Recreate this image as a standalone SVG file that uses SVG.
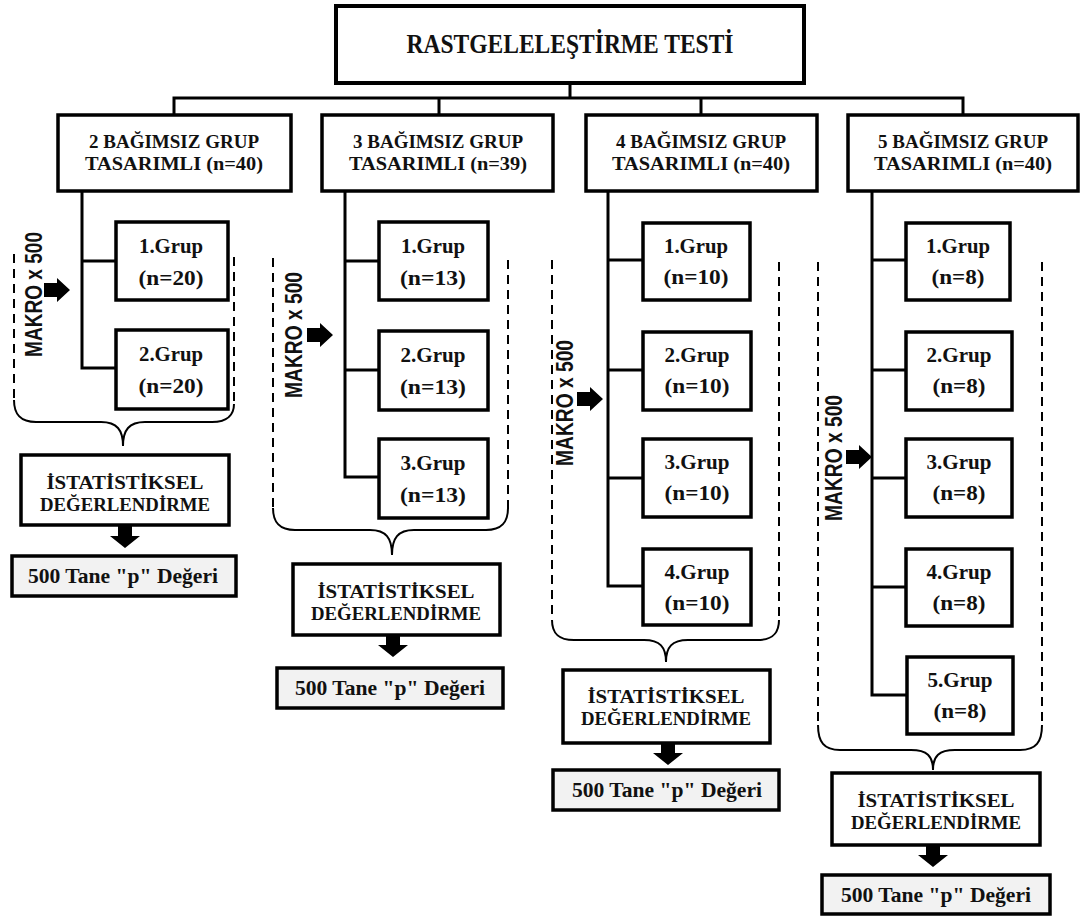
<svg xmlns="http://www.w3.org/2000/svg" xmlns:xlink="http://www.w3.org/1999/xlink" width="1081" height="917" viewBox="0 0 1081 917">
<style>
.box{fill:#fff;stroke:#000;stroke-width:3.5}
.pbox{fill:#f2f2f2;stroke:#000;stroke-width:3.5}
.conn{fill:none;stroke:#000;stroke-width:3;stroke-linecap:square}
.dash{fill:none;stroke:#000;stroke-width:2;stroke-dasharray:9,6}
.brace{fill:none;stroke:#000;stroke-width:2}
.t{font-family:"Liberation Serif","Times New Roman",serif;font-weight:bold;fill:#111;text-anchor:middle}
.mk{font-family:"Liberation Sans Narrow","Liberation Sans",Arial,sans-serif;font-weight:bold;fill:#111;text-anchor:middle;font-size:23px}
</style>
<defs>
<polygon id="rarrow" points="0,-7 13,-7 13,-12 26,0 13,12 13,7 0,7" fill="#000"/>
<polygon id="darrow" points="-7,0 7,0 7,10 15,10 0,22 -15,10 -7,10" fill="#000"/>
</defs>

<g id="connectors">
<path class="conn" d="M570,83 V98 M174,98 H963 M174,98 V115 M439,98 V115 M701,98 V115 M963,98 V115"/>
<path class="conn" d="M82,191 V368 H116 M82,261 H116"/>
<path class="conn" d="M345,191 V477 H379 M345,261 H379 M345,370 H379"/>
<path class="conn" d="M608,191 V586 H643 M608,260 H643 M608,370 H643 M608,478 H643"/>
<path class="conn" d="M872,191 V695 H906 M872,260 H906 M872,370 H906 M872,478 H906 M872,587 H906"/>
<use xlink:href="#rarrow" x="44" y="290"/>
<use xlink:href="#rarrow" x="307" y="335"/>
<use xlink:href="#rarrow" x="577" y="399"/>
<use xlink:href="#rarrow" x="846" y="457"/>
<use xlink:href="#darrow" x="125" y="526"/>
<use xlink:href="#darrow" x="393" y="635"/>
<use xlink:href="#darrow" x="668" y="743"/>
<use xlink:href="#darrow" x="933" y="845"/>
</g>

<g id="title">
<rect class="box" x="336" y="6" width="468" height="77" style="stroke-width:4"/>
<text class="t" x="570" y="53" font-size="28" textLength="327" lengthAdjust="spacingAndGlyphs">RASTGELELEŞTİRME TESTİ</text>
</g>

<g id="design2">
<rect class="box" x="58" y="115" width="233" height="76"/>
<text class="t" x="174" y="148" font-size="19.5" textLength="170" lengthAdjust="spacingAndGlyphs">2 BAĞIMSIZ GRUP</text>
<text class="t" x="174" y="170" font-size="19.5" textLength="178" lengthAdjust="spacingAndGlyphs">TASARIMLI (n=40)</text>
</g>
<g id="design3">
<rect class="box" x="322" y="115" width="231" height="76"/>
<text class="t" x="438" y="148" font-size="19.5" textLength="170" lengthAdjust="spacingAndGlyphs">3 BAĞIMSIZ GRUP</text>
<text class="t" x="438" y="170" font-size="19.5" textLength="178" lengthAdjust="spacingAndGlyphs">TASARIMLI (n=39)</text>
</g>
<g id="design4">
<rect class="box" x="586" y="115" width="231" height="76"/>
<text class="t" x="701" y="148" font-size="19.5" textLength="170" lengthAdjust="spacingAndGlyphs">4 BAĞIMSIZ GRUP</text>
<text class="t" x="701" y="170" font-size="19.5" textLength="178" lengthAdjust="spacingAndGlyphs">TASARIMLI (n=40)</text>
</g>
<g id="design5">
<rect class="box" x="848" y="115" width="230" height="76"/>
<text class="t" x="963" y="148" font-size="19.5" textLength="170" lengthAdjust="spacingAndGlyphs">5 BAĞIMSIZ GRUP</text>
<text class="t" x="963" y="170" font-size="19.5" textLength="178" lengthAdjust="spacingAndGlyphs">TASARIMLI (n=40)</text>
</g>

<!-- Column 1 -->
<g id="c1-g1"><rect class="box" x="116" y="222" width="112" height="78"/>
<text class="t" x="171" y="253" font-size="21" textLength="64" lengthAdjust="spacingAndGlyphs">1.Grup</text>
<text class="t" x="171" y="285" font-size="21" textLength="65" lengthAdjust="spacingAndGlyphs">(n=20)</text></g>
<g id="c1-g2"><rect class="box" x="116" y="330" width="112" height="79"/>
<text class="t" x="171" y="361" font-size="21" textLength="64" lengthAdjust="spacingAndGlyphs">2.Grup</text>
<text class="t" x="171" y="393" font-size="21" textLength="65" lengthAdjust="spacingAndGlyphs">(n=20)</text></g>
<g id="c1-loop">
<path class="dash" d="M14,254 V400 M234,257 V404"/>
<path class="brace" d="M14,400 C14,414 20,422 36,422 L101,422 C117,422 123,430 123,446 C123,430 129,422 145,422 L212,422 C228,422 234,414 234,404"/>
<text class="mk" transform="translate(42,294.5) rotate(-90)" textLength="125" lengthAdjust="spacingAndGlyphs">MAKRO x 500</text>
</g>
<g id="c1-stat"><rect class="box" x="21" y="455" width="208" height="70"/>
<text class="t" x="125" y="489" font-size="19" textLength="157" lengthAdjust="spacingAndGlyphs">İSTATİSTİKSEL</text>
<text class="t" x="125" y="511" font-size="19" textLength="170" lengthAdjust="spacingAndGlyphs">DEĞERLENDİRME</text></g>
<g id="c1-p"><rect class="pbox" x="12" y="556" width="224" height="40"/>
<text class="t" x="123" y="583" font-size="20" textLength="190" lengthAdjust="spacingAndGlyphs">500 Tane "p" Değeri</text></g>

<!-- Column 2 -->
<g id="c2-g1"><rect class="box" x="379" y="222" width="109" height="78"/>
<text class="t" x="433" y="253" font-size="21" textLength="64" lengthAdjust="spacingAndGlyphs">1.Grup</text>
<text class="t" x="433" y="285" font-size="21" textLength="66" lengthAdjust="spacingAndGlyphs">(n=13)</text></g>
<g id="c2-g2"><rect class="box" x="379" y="331" width="109" height="79"/>
<text class="t" x="433" y="362" font-size="21" textLength="65" lengthAdjust="spacingAndGlyphs">2.Grup</text>
<text class="t" x="433" y="394" font-size="21" textLength="66" lengthAdjust="spacingAndGlyphs">(n=13)</text></g>
<g id="c2-g3"><rect class="box" x="379" y="439" width="109" height="79"/>
<text class="t" x="433" y="470" font-size="21" textLength="65" lengthAdjust="spacingAndGlyphs">3.Grup</text>
<text class="t" x="433" y="502" font-size="21" textLength="66" lengthAdjust="spacingAndGlyphs">(n=13)</text></g>
<g id="c2-loop">
<path class="dash" d="M273,258 V508 M508,260 V508"/>
<path class="brace" d="M273,508 C273,522 279,530 295,530 L370,530 C386,530 392,538 392,555 C392,538 398,530 414,530 L486,530 C502,530 508,522 508,508"/>
<text class="mk" transform="translate(302,335) rotate(-90)" textLength="126" lengthAdjust="spacingAndGlyphs">MAKRO x 500</text>
</g>
<g id="c2-stat"><rect class="box" x="293" y="564" width="207" height="71"/>
<text class="t" x="396" y="598" font-size="19" textLength="157" lengthAdjust="spacingAndGlyphs">İSTATİSTİKSEL</text>
<text class="t" x="396" y="620" font-size="19" textLength="170" lengthAdjust="spacingAndGlyphs">DEĞERLENDİRME</text></g>
<g id="c2-p"><rect class="pbox" x="277" y="668" width="226" height="40"/>
<text class="t" x="390" y="695" font-size="20" textLength="190" lengthAdjust="spacingAndGlyphs">500 Tane "p" Değeri</text></g>

<!-- Column 3 -->
<g id="c3-g1"><rect class="box" x="643" y="223" width="107" height="77"/>
<text class="t" x="696" y="253" font-size="21" textLength="64" lengthAdjust="spacingAndGlyphs">1.Grup</text>
<text class="t" x="696" y="284" font-size="21" textLength="65" lengthAdjust="spacingAndGlyphs">(n=10)</text></g>
<g id="c3-g2"><rect class="box" x="643" y="332" width="108" height="78"/>
<text class="t" x="697" y="362" font-size="21" textLength="65" lengthAdjust="spacingAndGlyphs">2.Grup</text>
<text class="t" x="697" y="393" font-size="21" textLength="65" lengthAdjust="spacingAndGlyphs">(n=10)</text></g>
<g id="c3-g3"><rect class="box" x="643" y="439" width="108" height="78"/>
<text class="t" x="697" y="469" font-size="21" textLength="65" lengthAdjust="spacingAndGlyphs">3.Grup</text>
<text class="t" x="697" y="500" font-size="21" textLength="65" lengthAdjust="spacingAndGlyphs">(n=10)</text></g>
<g id="c3-g4"><rect class="box" x="643" y="549" width="108" height="76"/>
<text class="t" x="697" y="579" font-size="21" textLength="65" lengthAdjust="spacingAndGlyphs">4.Grup</text>
<text class="t" x="697" y="610" font-size="21" textLength="65" lengthAdjust="spacingAndGlyphs">(n=10)</text></g>
<g id="c3-loop">
<path class="dash" d="M552,260 V620 M779,262 V620"/>
<path class="brace" d="M552,620 C552,633 558,640 574,640 L644,640 C660,640 666,647 666,662 C666,647 672,640 688,640 L757,640 C773,640 779,633 779,620"/>
<text class="mk" transform="translate(573,403) rotate(-90)" textLength="126" lengthAdjust="spacingAndGlyphs">MAKRO x 500</text>
</g>
<g id="c3-stat"><rect class="box" x="563" y="670" width="207" height="73"/>
<text class="t" x="666" y="703" font-size="19" textLength="157" lengthAdjust="spacingAndGlyphs">İSTATİSTİKSEL</text>
<text class="t" x="666" y="725" font-size="19" textLength="170" lengthAdjust="spacingAndGlyphs">DEĞERLENDİRME</text></g>
<g id="c3-p"><rect class="pbox" x="553" y="770" width="226" height="40"/>
<text class="t" x="667" y="797" font-size="20" textLength="190" lengthAdjust="spacingAndGlyphs">500 Tane "p" Değeri</text></g>

<!-- Column 4 -->
<g id="c4-g1"><rect class="box" x="906" y="223" width="104" height="77"/>
<text class="t" x="958" y="253" font-size="21" textLength="64" lengthAdjust="spacingAndGlyphs">1.Grup</text>
<text class="t" x="958" y="284" font-size="21" textLength="53" lengthAdjust="spacingAndGlyphs">(n=8)</text></g>
<g id="c4-g2"><rect class="box" x="906" y="332" width="106" height="78"/>
<text class="t" x="959" y="362" font-size="21" textLength="65" lengthAdjust="spacingAndGlyphs">2.Grup</text>
<text class="t" x="959" y="393" font-size="21" textLength="53" lengthAdjust="spacingAndGlyphs">(n=8)</text></g>
<g id="c4-g3"><rect class="box" x="906" y="439" width="106" height="78"/>
<text class="t" x="959" y="469" font-size="21" textLength="65" lengthAdjust="spacingAndGlyphs">3.Grup</text>
<text class="t" x="959" y="500" font-size="21" textLength="53" lengthAdjust="spacingAndGlyphs">(n=8)</text></g>
<g id="c4-g4"><rect class="box" x="906" y="549" width="106" height="77"/>
<text class="t" x="959" y="579" font-size="21" textLength="65" lengthAdjust="spacingAndGlyphs">4.Grup</text>
<text class="t" x="959" y="610" font-size="21" textLength="53" lengthAdjust="spacingAndGlyphs">(n=8)</text></g>
<g id="c4-g5"><rect class="box" x="907" y="657" width="106" height="77"/>
<text class="t" x="960" y="687" font-size="21" textLength="65" lengthAdjust="spacingAndGlyphs">5.Grup</text>
<text class="t" x="960" y="718" font-size="21" textLength="53" lengthAdjust="spacingAndGlyphs">(n=8)</text></g>
<g id="c4-loop">
<path class="dash" d="M818,262 V725 M1042,262 V725"/>
<path class="brace" d="M818,725 C818,742 824,750 840,750 L911,750 C927,750 933,756 933,770 C933,756 939,750 955,750 L1020,750 C1036,750 1042,742 1042,725"/>
<text class="mk" transform="translate(842,458) rotate(-90)" textLength="126" lengthAdjust="spacingAndGlyphs">MAKRO x 500</text>
</g>
<g id="c4-stat"><rect class="box" x="832" y="773" width="208" height="72"/>
<text class="t" x="936" y="807" font-size="19" textLength="157" lengthAdjust="spacingAndGlyphs">İSTATİSTİKSEL</text>
<text class="t" x="936" y="829" font-size="19" textLength="170" lengthAdjust="spacingAndGlyphs">DEĞERLENDİRME</text></g>
<g id="c4-p"><rect class="pbox" x="822" y="875" width="228" height="39"/>
<text class="t" x="936" y="902" font-size="20" textLength="190" lengthAdjust="spacingAndGlyphs">500 Tane "p" Değeri</text></g>
</svg>
